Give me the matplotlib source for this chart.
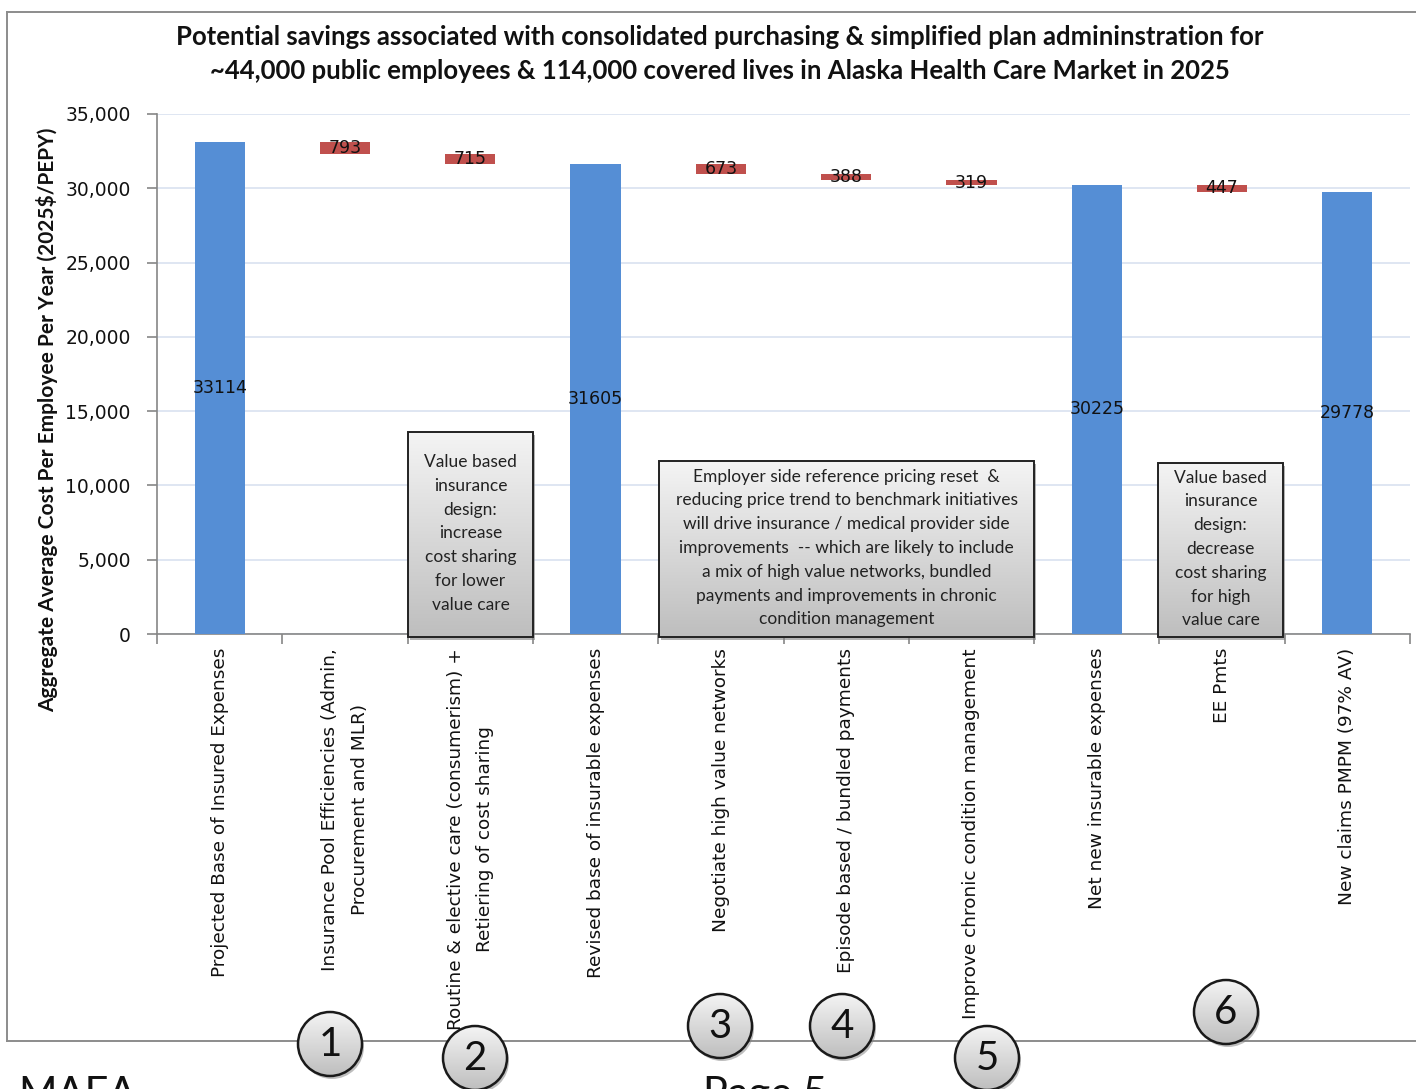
import matplotlib
matplotlib.use("Agg")
import matplotlib.pyplot as plt
import numpy as np
from matplotlib.patches import Rectangle, Circle
from matplotlib.lines import Line2D
from matplotlib.colors import LinearSegmentedColormap

# ---- data ----
categories = [
    "Projected Base of Insured Expenses",
    "Insurance Pool Efficiencies (Admin,\nProcurement and MLR)",
    "Routine & elective care (consumerism) +\nRetiering of cost sharing",
    "Revised base of insurable expenses",
    "Negotiate high value networks",
    "Episode based / bundled payments",
    "Improve chronic condition management",
    "Net new insurable expenses",
    "EE Pmts",
    "New claims PMPM (97% AV)",
]
values = [33114, 793, 715, 31605, 673, 388, 319, 30225, 447, 29778]
kinds = ["total", "saving", "saving", "total", "saving", "saving", "saving",
         "total", "saving", "total"]
y_ticks = [0, 5000, 10000, 15000, 20000, 25000, 30000, 35000]

title = ("Potential savings associated with consolidated purchasing & simplified plan admininstration for\n"
         "~44,000 public employees & 114,000 covered lives in Alaska Health Care Market in 2025")
y_label = "Aggregate Average Cost Per Employee Per Year (2025$/PEPY)"

notes = [
    "Value based\ninsurance\ndesign:\nincrease\ncost sharing\nfor lower\nvalue care",
    "Employer side reference pricing reset  &\nreducing price trend to benchmark initiatives\n"
    "will drive insurance / medical provider side\nimprovements  -- which are likely to include\n"
    "a mix of high value networks, bundled\npayments and improvements in chronic\ncondition management",
    "Value based\ninsurance\ndesign:\ndecrease\ncost sharing\nfor high\nvalue care",
]
badges = ["1", "2", "3", "4", "5", "6"]

BLUE = "#558ED5"
RED = "#C0504D"
CAL = ["Lato", "DejaVu Sans"]

W, H = 1416, 1089
fig = plt.figure(figsize=(W / 100, H / 100), dpi=100)
fig.patch.set_facecolor("white")

def fx(px):
    return px / W

def fy(py):
    return 1 - py / H

ax = fig.add_axes([fx(157), fy(634), fx(1410) - fx(157), fy(114) - fy(634)])

# ---- waterfall bars ----
bottoms, heights, colors = [], [], []
level = 0
for v, k in zip(values, kinds):
    if k == "total":
        bottoms.append(0)
        heights.append(v)
        colors.append(BLUE)
        level = v
    else:
        bottoms.append(level - v)
        heights.append(v)
        colors.append(RED)
        level -= v

x = np.arange(len(categories))
ax.bar(x, heights, bottom=bottoms, width=0.4, color=colors, zorder=3)
for xi, b, h in zip(x, bottoms, heights):
    ax.text(xi, b + h / 2, f"{h}", ha="center", va="center", fontsize=12.5,
            color="#111111", zorder=4)

ax.set_xlim(-0.5, len(categories) - 0.5)
ax.set_ylim(0, 35000)
ax.set_yticks(y_ticks)
ax.set_yticklabels([f"{t:,}" for t in y_ticks], fontsize=13.5, color="#111111")
ax.yaxis.grid(True, color="#D9E2F0", linewidth=1.2, zorder=0)
ax.set_axisbelow(True)
for s in ["top", "right"]:
    ax.spines[s].set_visible(False)
for s in ["left", "bottom"]:
    ax.spines[s].set_color("#868686")
    ax.spines[s].set_linewidth(1.2)
ax.tick_params(axis="y", length=7, width=1.2, color="#868686", pad=12)

ax.set_xticks(x)
ax.set_xticklabels(categories, rotation=90, ha="center", va="top",
                   fontsize=13.3, color="#111111", linespacing=1.8)
ax.tick_params(axis="x", which="major", length=0, pad=10)
ax.set_xticks(np.arange(-0.5, len(categories), 1), minor=True)
ax.tick_params(axis="x", which="minor", length=7, width=1.2, color="#868686")

fig.text(fx(47), fy(420), y_label, rotation=90, ha="center", va="center",
         fontsize=15, fontweight="bold", family=CAL, color="#111111")
fig.text(fx(720), fy(54), title, ha="center", va="center", fontsize=18.5,
         fontweight="bold", family=CAL, color="#111111", linespacing=1.5)

# ---- overlay in pixel coordinates ----
ov = fig.add_axes([0, 0, 1, 1], zorder=10)
ov.set_xlim(0, W)
ov.set_ylim(H, 0)
ov.axis("off")
ov.patch.set_alpha(0)

grad = np.linspace(0, 1, 256).reshape(-1, 1)
gray_cmap = LinearSegmentedColormap.from_list("g", ["#F4F4F4", "#BEBEBE"])

# frame
for xs, ys in [([7, 7], [12, 1041]), ([7, W], [12, 12]), ([7, W], [1041, 1041])]:
    ov.add_line(Line2D(xs, ys, color="#8C8C8C", linewidth=1.4, zorder=1))

def gradient_patch(patch, extent):
    im = ov.imshow(grad, cmap=gray_cmap, extent=extent, aspect="auto",
                   interpolation="bilinear", zorder=3)
    ov.add_patch(patch)
    im.set_clip_path(patch)

boxes = [(408, 432, 533, 637), (659, 461, 1034, 637), (1158, 463, 1283, 637)]
for (x0, y0, x1, y1), note in zip(boxes, notes):
    ov.add_patch(Rectangle((x0 + 2, y0 + 3), x1 - x0, y1 - y0, facecolor="#7F7F7F",
                           edgecolor="none", alpha=0.6, zorder=2))
    r = Rectangle((x0, y0), x1 - x0, y1 - y0, facecolor="none", edgecolor="#222222",
                  linewidth=1.4, zorder=4)
    gradient_patch(r, [x0, x1, y1, y0])
    ov.text((x0 + x1) / 2, (y0 + y1) / 2 - 1, note, ha="center", va="center",
            fontsize=12.5, family=CAL, color="#222222", linespacing=1.6, zorder=5)

badge_pos = [(330, 1044), (475, 1058), (720, 1026), (842, 1026), (987, 1058), (1226, 1012)]
for (cx, cy), b in zip(badge_pos, badges):
    ov.add_patch(Circle((cx + 2, cy + 3), 32, facecolor="#7F7F7F", edgecolor="none",
                        alpha=0.5, zorder=2))
    c = Circle((cx, cy), 32, facecolor="none", edgecolor="#1A1A1A", linewidth=1.8, zorder=4)
    gradient_patch(c, [cx - 32, cx + 32, cy + 32, cy - 32])
    ov.text(cx, cy + 1, b, ha="center", va="center", fontsize=29, family=CAL,
            color="#111111", zorder=5)

ov.set_xlim(0, W)
ov.set_ylim(H, 0)

# footer text, cut by the page edge
fig.text(fx(18), fy(1107), "MAFA", ha="left", va="baseline", fontsize=30,
         family=CAL, color="#111111")
fig.text(fx(703), fy(1107), "Page 5", ha="left", va="baseline", fontsize=30,
         family=CAL, color="#111111")

fig.savefig("out.png", dpi=100)
